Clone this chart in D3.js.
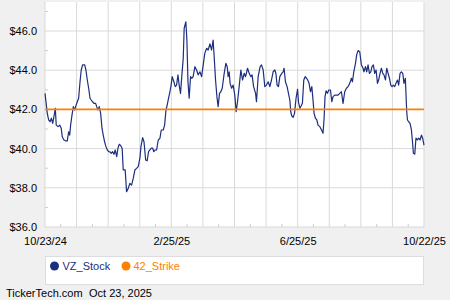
<!DOCTYPE html>
<html>
<head>
<meta charset="utf-8">
<script src="https://cdn.jsdelivr.net/npm/d3@7"></script>
<style>
  body { margin: 0; background: #f0f0f0; }
  text { font-family: Arial, "Liberation Sans", sans-serif; }
</style>
</head>
<body>
<div id="chart"></div>
<script>
// trading day number since 10/23/24 and closing price
var day = [0, 1.5, 2.4, 3.3, 4.2, 5.1, 5.9, 6.8, 7.4, 8.6, 9.7, 10.7, 11.4, 12.5, 13.8, 14.7,
  15.6, 16.3, 16.9, 17.8, 18.7, 19.6, 20.2, 21.3, 22.2, 23.1, 23.9, 24.8, 26.2, 27.0, 27.9,
  28.8, 29.7, 30.5, 31.4, 32.3, 33.4, 34.1, 34.9, 35.8, 36.7, 37.6, 38.4, 39.3, 40.2, 41.1,
  42.0, 42.8, 43.7, 44.6, 45.5, 46.3, 47.3, 48.1, 49.0, 50.0, 50.9, 51.6, 52.9, 53.8, 54.9,
  56.0, 57.1, 58.2, 59.3, 60.4, 61.5, 62.6, 63.3, 64.4, 65.3, 66.4, 67.4, 68.3, 69.2, 70.1,
  71.0, 71.8, 72.7, 73.6, 74.7, 75.8, 76.7, 78.0, 78.9, 79.8, 80.6, 81.5, 82.4, 83.2, 83.9,
  85.0, 85.9, 86.8, 87.7, 88.5, 89.4, 90.3, 91.2, 91.8, 92.9, 93.6, 94.3, 95.1, 96.0, 96.9,
  97.7, 98.9, 100.0, 101.0, 102.2, 103.3, 105.4, 106.6, 107.6, 108.8, 109.9, 110.9, 111.6,
  112.5, 113.4, 114.2, 115.1, 116.0, 116.9, 118.2, 119.3, 120.2, 120.8, 121.5, 122.1, 123.1,
  124.1, 125.2, 126.1, 127.0, 128.3, 129.2, 130.3, 131.4, 132.3, 133.6, 134.7, 135.8, 136.6,
  137.6, 138.9, 139.5, 140.6, 141.9, 142.8, 143.9, 145.0, 146.1, 147.2, 148.3, 149.4, 150.5,
  151.6, 152.3, 153.1, 154.0, 154.9, 156.2, 157.1, 157.7, 158.6, 159.7, 160.6, 161.5, 162.1,
  162.8, 163.7, 164.6, 165.6, 166.6, 167.2, 168.1, 168.9, 169.8, 170.7, 171.6, 172.5, 173.3,
  174.2, 175.1, 176.0, 176.6, 177.5, 178.4, 179.3, 180.1, 181.3, 182.4, 183.4, 184.1, 184.7,
  185.4, 186.3, 187.2, 188.3, 189.2, 190.0, 191.1, 192.3, 193.3, 194.4, 195.5, 196.6, 197.7,
  198.8, 199.9, 201.0, 202.1, 202.8, 203.7, 204.8, 205.6, 206.5, 207.6, 208.7, 209.8, 210.4,
  211.4, 212.2, 213.1, 214.0, 214.9, 215.7, 216.6, 217.5, 218.4, 219.3, 220.1, 221.0, 221.9,
  222.8, 223.6, 224.6, 225.4, 226.3, 227.2, 228.1, 228.9, 229.8, 230.7, 231.5, 232.5, 233.3,
  234.2, 235.1, 236.0, 236.8, 237.7, 238.6, 239.1, 239.9, 240.8, 241.7, 242.4, 243.0, 243.9,
  244.7, 245.6, 246.5, 247.4, 248.3, 249.1, 250.0];

var close = [42.82, 41.80, 41.46, 41.37, 41.55, 41.29, 41.63, 42.06, 41.20, 41.12, 41.20, 41.04,
  40.60, 40.44, 40.39, 40.39, 40.86, 40.69, 41.20, 41.71, 42.14, 41.97, 42.14, 42.39, 42.57,
  43.41, 44.01, 44.27, 44.27, 44.01, 43.50, 43.08, 42.57, 42.48, 42.39, 42.31, 42.31, 42.14,
  41.97, 42.14, 41.80, 41.04, 40.69, 40.35, 40.10, 39.93, 39.84, 39.84, 39.76, 39.84, 39.71,
  39.93, 39.59, 40.01, 40.22, 40.15, 40.01, 38.91, 38.91, 37.80, 37.97, 38.23, 38.14, 38.48,
  38.91, 38.99, 39.08, 39.51, 40.10, 40.56, 40.35, 39.42, 39.38, 39.84, 39.93, 40.02, 40.02,
  39.84, 39.93, 39.93, 40.44, 40.52, 40.95, 40.95, 41.20, 41.97, 42.22, 42.57, 42.90, 43.24,
  43.67, 43.41, 43.16, 43.24, 43.76, 43.24, 42.82, 43.76, 44.61, 46.14, 46.47, 45.54, 43.41,
  42.57, 43.67, 43.59, 43.67, 44.18, 44.01, 43.76, 43.92, 43.67, 44.86, 45.12, 45.03, 45.34,
  45.03, 45.54, 44.69, 43.50, 42.65, 42.14, 42.82, 42.90, 43.08, 43.84, 44.35, 44.18, 43.67,
  43.92, 43.33, 43.08, 43.24, 42.73, 41.88, 42.39, 43.33, 44.01, 43.50, 43.84, 43.67, 44.10,
  43.84, 43.67, 43.76, 43.16, 42.82, 42.39, 43.67, 44.18, 44.27, 44.01, 43.16, 43.24, 43.41,
  43.16, 43.50, 43.92, 44.01, 43.84, 43.24, 43.16, 43.67, 43.84, 43.92, 44.10, 43.41, 43.16,
  42.82, 42.48, 41.88, 41.66, 41.60, 41.80, 42.57, 43.03, 42.39, 42.06, 42.17, 42.31, 43.50,
  43.67, 43.59, 43.50, 43.33, 42.90, 43.16, 42.65, 41.80, 41.55, 41.46, 41.20, 41.12, 40.95,
  40.78, 41.55, 42.65, 42.95, 42.82, 42.99, 42.99, 42.39, 42.65, 42.73, 42.73, 42.73, 42.82,
  42.90, 42.31, 42.90, 43.08, 43.16, 43.33, 43.59, 43.41, 43.92, 44.35, 44.78, 45.00, 44.94,
  44.27, 44.10, 43.92, 44.18, 43.92, 44.27, 43.84, 43.92, 44.18, 44.27, 43.84, 44.01, 43.33,
  43.50, 43.84, 44.10, 43.84, 43.76, 43.50, 44.10, 43.84, 43.59, 43.24, 43.16, 43.24, 43.16,
  43.33, 43.50, 43.24, 43.84, 43.92, 43.84, 43.33, 43.59, 41.88, 41.46, 41.37, 41.29, 40.95,
  40.35, 39.76, 39.72, 40.53, 40.44, 40.53, 40.44, 40.69, 40.53, 40.18];

var strikeDay = [0, 250];
var strikePrice = [42, 42];

var yTicks = [36, 38, 40, 42, 44, 46];
var yMinor = [37, 39, 41, 43, 45, 47];
var xLabels = ["10/23/24", "2/25/25", "6/25/25", "10/22/25"];
var lastDay = 250;

var svgWidth = 450;
var svgHeight = 300;

var margin = {
  top: 2,
  right: 26,
  bottom: 73,
  left: 45
};

var width = svgWidth - margin.left - margin.right;
var height = svgHeight - margin.top - margin.bottom;

var svg = d3.select("#chart")
  .append("svg")
  .attr("width", svgWidth)
  .attr("height", svgHeight);

svg.append("rect")
  .attr("width", svgWidth)
  .attr("height", svgHeight)
  .attr("fill", "#f0f0f0");

var chartGroup = svg.append("g")
  .attr("transform", `translate(${margin.left}, ${margin.top})`);

var xScale = d3.scaleLinear()
  .domain([0, lastDay])
  .range([0, width]);

var yScale = d3.scaleLinear()
  .domain([36, 47.48])
  .range([height, 0]);

chartGroup.append("rect")
  .attr("width", width)
  .attr("height", height)
  .attr("fill", "white");

// 12 equal divisions across the year
var xGrid = d3.range(13).map(k => k * lastDay / 12);
var xMinor = d3.range(12).map(k => (k + 0.5) * lastDay / 12);

chartGroup.selectAll(".xgrid")
  .data(xGrid)
  .enter()
  .append("line")
  .attr("x1", d => xScale(d))
  .attr("x2", d => xScale(d))
  .attr("y1", 0)
  .attr("y2", height)
  .attr("stroke", "#d9d9d9")
  .attr("stroke-width", 1);

chartGroup.selectAll(".ygrid")
  .data(yTicks)
  .enter()
  .append("line")
  .attr("x1", 0)
  .attr("x2", width)
  .attr("y1", d => yScale(d))
  .attr("y2", d => yScale(d))
  .attr("stroke", "#d9d9d9")
  .attr("stroke-width", 1);

chartGroup.selectAll(".xminor")
  .data(xMinor)
  .enter()
  .append("line")
  .attr("x1", d => xScale(d))
  .attr("x2", d => xScale(d))
  .attr("y1", height - 3)
  .attr("y2", height)
  .attr("stroke", "#cccccc");

chartGroup.selectAll(".yminor")
  .data(yMinor)
  .enter()
  .append("line")
  .attr("x1", 0)
  .attr("x2", 3)
  .attr("y1", d => yScale(d))
  .attr("y2", d => yScale(d))
  .attr("stroke", "#cccccc");

// axis labels
var leftAxis = d3.axisLeft(yScale)
  .tickValues(yTicks)
  .tickSize(0)
  .tickPadding(8)
  .tickFormat(d => "$" + d.toFixed(1));

var yAxisGroup = chartGroup.append("g")
  .call(leftAxis);
yAxisGroup.select(".domain").remove();
yAxisGroup.selectAll("text")
  .attr("font-size", "11px")
  .attr("font-family", "Arial, 'Liberation Sans', sans-serif")
  .attr("fill", "#000");

var bottomAxis = d3.axisBottom(xScale)
  .tickValues([0, 4, 8, 12].map(k => k * lastDay / 12))
  .tickSize(0)
  .tickPadding(10)
  .tickFormat((d, i) => xLabels[i]);

var xAxisGroup = chartGroup.append("g")
  .attr("transform", `translate(0, ${height})`)
  .call(bottomAxis);
xAxisGroup.select(".domain").remove();
xAxisGroup.selectAll("text")
  .attr("font-size", "11px")
  .attr("font-family", "Arial, 'Liberation Sans', sans-serif")
  .attr("fill", "#000");

// price line
var points = day.map((d, i) => [d, close[i]]);
var line = d3.line()
  .x(d => xScale(d[0]))
  .y(d => yScale(d[1]));

chartGroup.append("path")
  .datum(points)
  .attr("d", line)
  .attr("fill", "none")
  .attr("stroke", "#1c2e7e")
  .attr("stroke-width", 1.2)
  .attr("stroke-linejoin", "round");

chartGroup.append("path")
  .datum(strikeDay.map((d, i) => [d, strikePrice[i]]))
  .attr("d", line)
  .attr("fill", "none")
  .attr("stroke", "#ff8000")
  .attr("stroke-width", 1.6);

// legend
var legend = svg.append("g")
  .attr("transform", "translate(45.5, 256.5)");

legend.append("rect")
  .attr("width", 378)
  .attr("height", 28)
  .attr("fill", "white")
  .attr("stroke", "#dddddd");

legend.append("circle")
  .attr("cx", 9)
  .attr("cy", 9.5)
  .attr("r", 4.5)
  .attr("fill", "#1c2e7e");

legend.append("text")
  .attr("x", 17)
  .attr("y", 13.5)
  .attr("font-size", "11px")
  .attr("fill", "#1c2e7e")
  .text("VZ_Stock");

legend.append("circle")
  .attr("cx", 80.5)
  .attr("cy", 9.5)
  .attr("r", 4.5)
  .attr("fill", "#ff8000");

legend.append("text")
  .attr("x", 88)
  .attr("y", 13.5)
  .attr("font-size", "11px")
  .attr("fill", "#ff8000")
  .text("42_Strike");

// footer
svg.append("text")
  .attr("x", 6)
  .attr("y", 297)
  .attr("font-size", "11px")
  .attr("fill", "#000")
  .text("TickerTech.com");

svg.append("text")
  .attr("x", 89)
  .attr("y", 297)
  .attr("font-size", "11px")
  .attr("fill", "#000")
  .text("Oct 23, 2025");
</script>
</body>
</html>
